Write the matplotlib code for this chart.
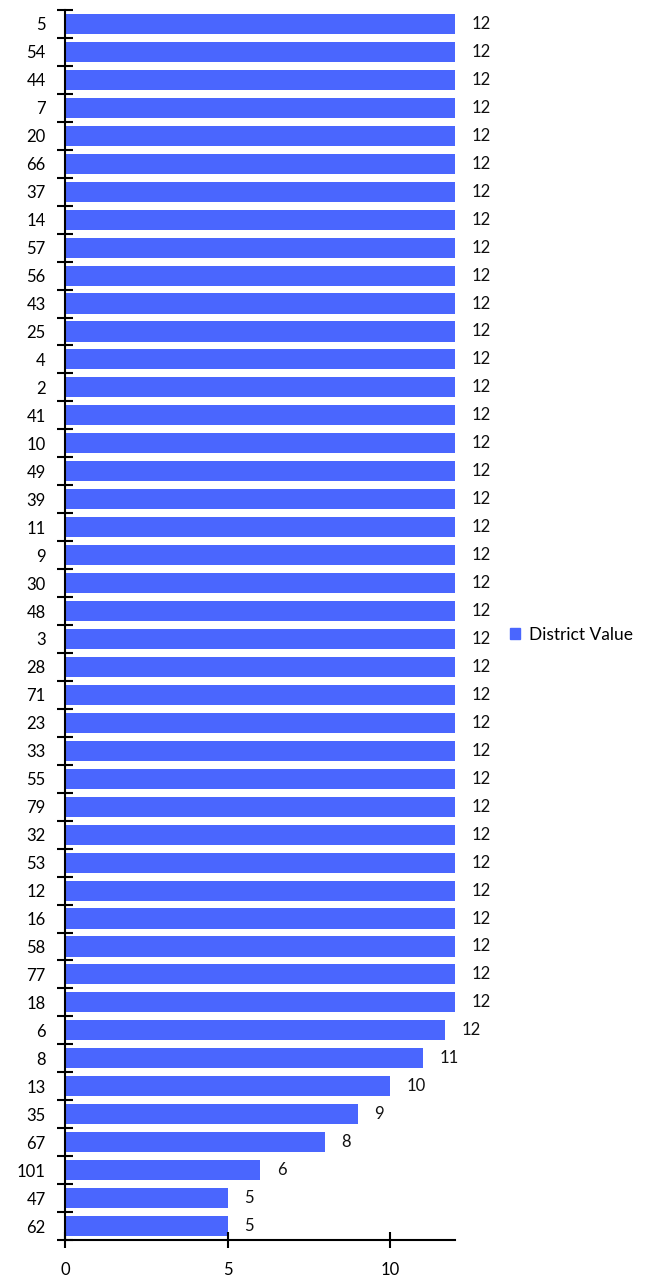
import matplotlib

matplotlib.use("Agg")
import matplotlib.pyplot as plt
import numpy as np
from matplotlib.patches import Patch

districts = ["5", "54", "44", "7", "20", "66", "37", "14", "57", "56", "43", "25",
             "4", "2", "41", "10", "49", "39", "11", "9", "30", "48", "3", "28",
             "71", "23", "33", "55", "79", "32", "53", "12", "16", "58", "77", "18",
             "6", "8", "13", "35", "67", "101", "47", "62"]
values = [12] * 36 + [11.7, 11, 10, 9, 8, 6, 5, 5]
series_name = "District Value"

COLOR = "#4A66FE"
plt.rcParams.update({"font.family": ["Lato", "DejaVu Sans"], "font.size": 12})

fig = plt.figure(figsize=(6.6, 12.8), dpi=100)
ax = fig.add_axes([65 / 660, 40 / 1280, 390 / 660, 1230 / 1280])

pos = np.arange(len(districts))
ax.barh(pos, values, height=0.72, color=COLOR)
for p, v in zip(pos, values):
    ax.annotate(f"{v:.0f}", (v, p), xytext=(12, 0), textcoords="offset points",
                va="center", ha="left", fontsize=12, color="#111111")

ax.set_xlim(0, 12)
ax.set_ylim(len(districts) - 0.5, -0.5)
ax.set_yticks(pos, districts)
ax.set_yticks(np.arange(len(districts) + 1) - 0.5, minor=True)
ax.tick_params(axis="y", which="major", length=0, pad=14)
ax.tick_params(axis="y", which="minor", direction="inout", length=12, width=1.5)
ax.set_xticks([0, 5, 10])
ax.tick_params(axis="x", direction="inout", length=12, width=1.5, pad=10)

for s in ["top", "right"]:
    ax.spines[s].set_visible(False)
for s in ["left", "bottom"]:
    ax.spines[s].set_linewidth(1.5)

fig.legend(handles=[Patch(color=COLOR, label=series_name)], loc="center left",
           bbox_to_anchor=(494 / 660, 0.504), frameon=False, fontsize=12.5,
           handlelength=0.6, handleheight=0.6, handletextpad=0.5)

fig.savefig("out.png", dpi=100)
